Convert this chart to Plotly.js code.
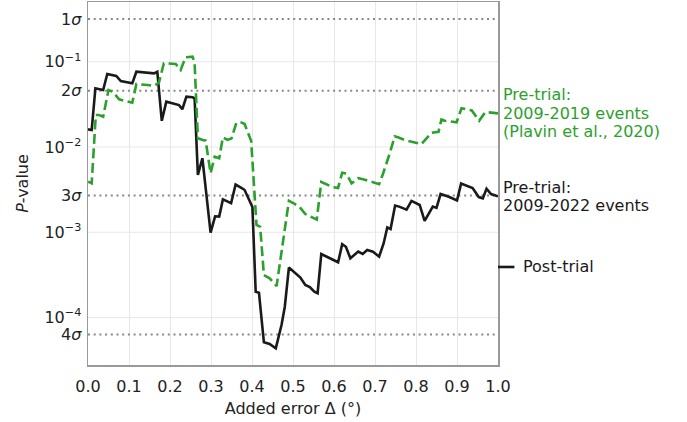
<!DOCTYPE html>
<html>
<head>
<meta charset="utf-8">
<script src="https://cdn.plot.ly/plotly-3.0.1.min.js"></script>
<style>html,body{margin:0;padding:0;background:#fff;}#chart{width:687px;height:422px;}</style>
</head>
<body>
<div id="chart"></div>
<script>
// Pre-trial, 2009-2022 events (black solid)
const xPre2022 = [0.0,0.009,0.018,0.027,0.037,0.047,0.060,0.069,0.080,0.108,0.118,0.145,0.161,0.169,0.180,0.191,0.210,0.222,0.230,0.240,0.255,0.260,0.268,0.279,0.299,0.310,0.320,0.329,0.349,0.360,0.376,0.382,0.401,0.409,0.417,0.429,0.443,0.458,0.472,0.480,0.490,0.505,0.518,0.530,0.541,0.552,0.560,0.569,0.610,0.620,0.629,0.640,0.659,0.670,0.681,0.695,0.710,0.721,0.730,0.738,0.749,0.759,0.777,0.789,0.809,0.821,0.832,0.841,0.850,0.860,0.880,0.900,0.910,0.938,0.953,0.963,0.972,0.983,1.0];
const pPre2022 = [0.0161,0.0158,0.0488,0.0474,0.0466,0.0718,0.0698,0.0680,0.0594,0.0558,0.0763,0.0743,0.0731,0.0763,0.0203,0.0340,0.0325,0.0310,0.0277,0.0389,0.0383,0.0373,0.00470,0.00738,0.000989,0.00154,0.00153,0.00243,0.00219,0.00363,0.00328,0.00313,0.00198,0.000201,0.000196,5.13e-5,4.90e-5,4.36e-5,8.18e-5,1.34e-4,3.86e-4,3.38e-4,2.95e-4,2.41e-4,2.28e-4,2.01e-4,1.93e-4,5.57e-4,4.45e-4,7.25e-4,6.77e-4,4.95e-4,5.95e-4,5.57e-4,6.21e-4,5.93e-4,5.18e-4,7.40e-4,1.14e-3,1.09e-3,2.06e-3,2.00e-3,1.84e-3,2.33e-3,2.09e-3,1.36e-3,1.71e-3,2.00e-3,1.93e-3,2.81e-3,2.61e-3,2.36e-3,3.72e-3,3.30e-3,2.59e-3,2.50e-3,3.24e-3,2.81e-3,2.64e-3];

// Pre-trial, 2009-2019 events (Plavin et al., 2020) (green dashed)
const xPre2019 = [0.0,0.009,0.019,0.027,0.037,0.050,0.060,0.076,0.108,0.118,0.145,0.161,0.173,0.185,0.214,0.226,0.238,0.255,0.260,0.268,0.280,0.287,0.299,0.309,0.320,0.329,0.340,0.350,0.362,0.374,0.382,0.398,0.411,0.420,0.429,0.443,0.460,0.474,0.490,0.504,0.515,0.530,0.558,0.569,0.598,0.610,0.620,0.630,0.643,0.659,0.671,0.710,0.720,0.736,0.748,0.756,0.772,0.813,0.838,0.855,0.862,0.870,0.899,0.911,0.936,0.954,0.969,1.0];
const pPre2019 = [0.00392,0.00375,0.0237,0.0237,0.0227,0.0466,0.0445,0.0362,0.0330,0.0548,0.0533,0.0519,0.0568,0.0958,0.0940,0.0800,0.1127,0.1145,0.0966,0.01264,0.01208,0.01186,0.00492,0.00769,0.00737,0.0130,0.0121,0.0126,0.0193,0.0194,0.0186,0.01175,0.00122,0.00116,3.15e-4,2.89e-4,2.34e-4,6.78e-4,2.34e-3,2.15e-3,2.01e-3,1.64e-3,1.41e-3,3.89e-3,3.37e-3,3.31e-3,5.00e-3,4.89e-3,3.75e-3,4.30e-3,4.18e-3,3.67e-3,4.92e-3,8.43e-3,1.33e-2,1.30e-2,1.21e-2,1.08e-2,1.47e-2,1.51e-2,2.10e-2,2.03e-2,1.95e-2,2.85e-2,2.68e-2,2.03e-2,2.57e-2,2.48e-2];

// Post-trial p-value
const pPostTrial = 3.92e-4;

// Significance levels
const sigmaP = [0.3173, 0.0455, 0.0027, 6.334e-5];
const sigmaLabels = ['1<i>σ</i>', '2<i>σ</i>', '3<i>σ</i>', '4<i>σ</i>'];
const decadeP = [0.1, 0.01, 0.001, 0.0001];
const decadeLabels = ['10<sup>−1</sup>', '10<sup>−2</sup>', '10<sup>−3</sup>', '10<sup>−4</sup>'];
const xTicks = [0.0,0.1,0.2,0.3,0.4,0.5,0.6,0.7,0.8,0.9,1.0];
const xTickLabels = ['0.0','0.1','0.2','0.3','0.4','0.5','0.6','0.7','0.8','0.9','1.0'];

const label2019 = ['Pre-trial:', '2009-2019 events', '(Plavin et al., 2020)'];
const label2022 = ['Pre-trial:', '2009-2022 events'];
const labelPost = 'Post-trial';

const yRange = [-4.556, -0.300];
const FONT = 'DejaVu Sans, sans-serif';
const GREEN = '#2ca02c';
const BLACK = '#1a1a1a';

const traces = [];
// decade grid lines
decadeP.forEach(p => traces.push({x:[0,1], y:[p,p], mode:'lines', line:{color:'#e8e8e8', width:1}, hoverinfo:'skip', showlegend:false}));
// sigma dotted lines
sigmaP.forEach(p => traces.push({x:[0,1], y:[p,p], mode:'lines', line:{color:'#888888', width:2, dash:'2px,3.7px'}, hoverinfo:'skip', showlegend:false}));
traces.push({x:xPre2022, y:pPre2022, mode:'lines', line:{color:BLACK, width:2.6}, showlegend:false});
traces.push({x:xPre2019, y:pPre2019, mode:'lines', line:{color:GREEN, width:2.6, dash:'10px,4.5px'}, showlegend:false});

const annotations = [];
const lineH = 18.5;
const last2019 = Math.log10(pPre2019[pPre2019.length-1]);
label2019.forEach((t,i) => annotations.push({xref:'paper', x:1, xanchor:'left', xshift:3, yref:'y', y:last2019, yanchor:'middle', yshift:(1-i)*lineH, text:t, showarrow:false, font:{family:FONT, size:16, color:GREEN}}));
const last2022 = Math.log10(pPre2022[pPre2022.length-1]);
label2022.forEach((t,i) => annotations.push({xref:'paper', x:1, xanchor:'left', xshift:3, yref:'y', y:last2022, yanchor:'middle', yshift:(0.5-i)*lineH, text:t, showarrow:false, font:{family:FONT, size:16, color:BLACK}}));
annotations.push({xref:'paper', x:1, xanchor:'left', xshift:23, yref:'y', y:Math.log10(pPostTrial), yanchor:'middle', text:labelPost, showarrow:false, font:{family:FONT, size:16, color:BLACK}});

const postPaperY = (Math.log10(pPostTrial) - yRange[0]) / (yRange[1] - yRange[0]);
const shapes = [{type:'line', xref:'paper', yref:'paper', x0:1, x1:1.04, y0:postPaperY, y1:postPaperY, line:{color:BLACK, width:2.6}}];

const layout = {
  width:687, height:422,
  margin:{l:88, r:189, t:2, b:57},
  paper_bgcolor:'#fff', plot_bgcolor:'#fff',
  font:{family:FONT, size:16, color:'#222'},
  showlegend:false,
  xaxis:{range:[0,1], tickmode:'array', tickvals:xTicks, ticktext:xTickLabels, showgrid:true, gridcolor:'#e8e8e8', gridwidth:1, zeroline:false,
    showline:true, mirror:true, linecolor:'#999', linewidth:1.5, ticks:'', ticklabelstandoff:6,
    tickfont:{family:FONT, size:16, color:'#222'},
    title:{text:'Added error Δ (°)', font:{family:FONT, size:16, color:'#222'}, standoff:8}},
  yaxis:{type:'log', range:yRange, tickmode:'array', tickvals:sigmaP.concat(decadeP), ticktext:sigmaLabels.concat(decadeLabels), showgrid:false, zeroline:false,
    showline:true, mirror:true, linecolor:'#999', linewidth:1.5, ticks:'', ticklabelstandoff:2,
    tickfont:{family:FONT, size:16, color:'#222'},
    title:{text:'<i>P</i>-value', font:{family:FONT, size:16, color:'#222'}, standoff:12}},
  annotations:annotations,
  shapes:shapes
};

Plotly.newPlot('chart', traces, layout, {displayModeBar:false, staticPlot:true});
</script>
</body>
</html>
